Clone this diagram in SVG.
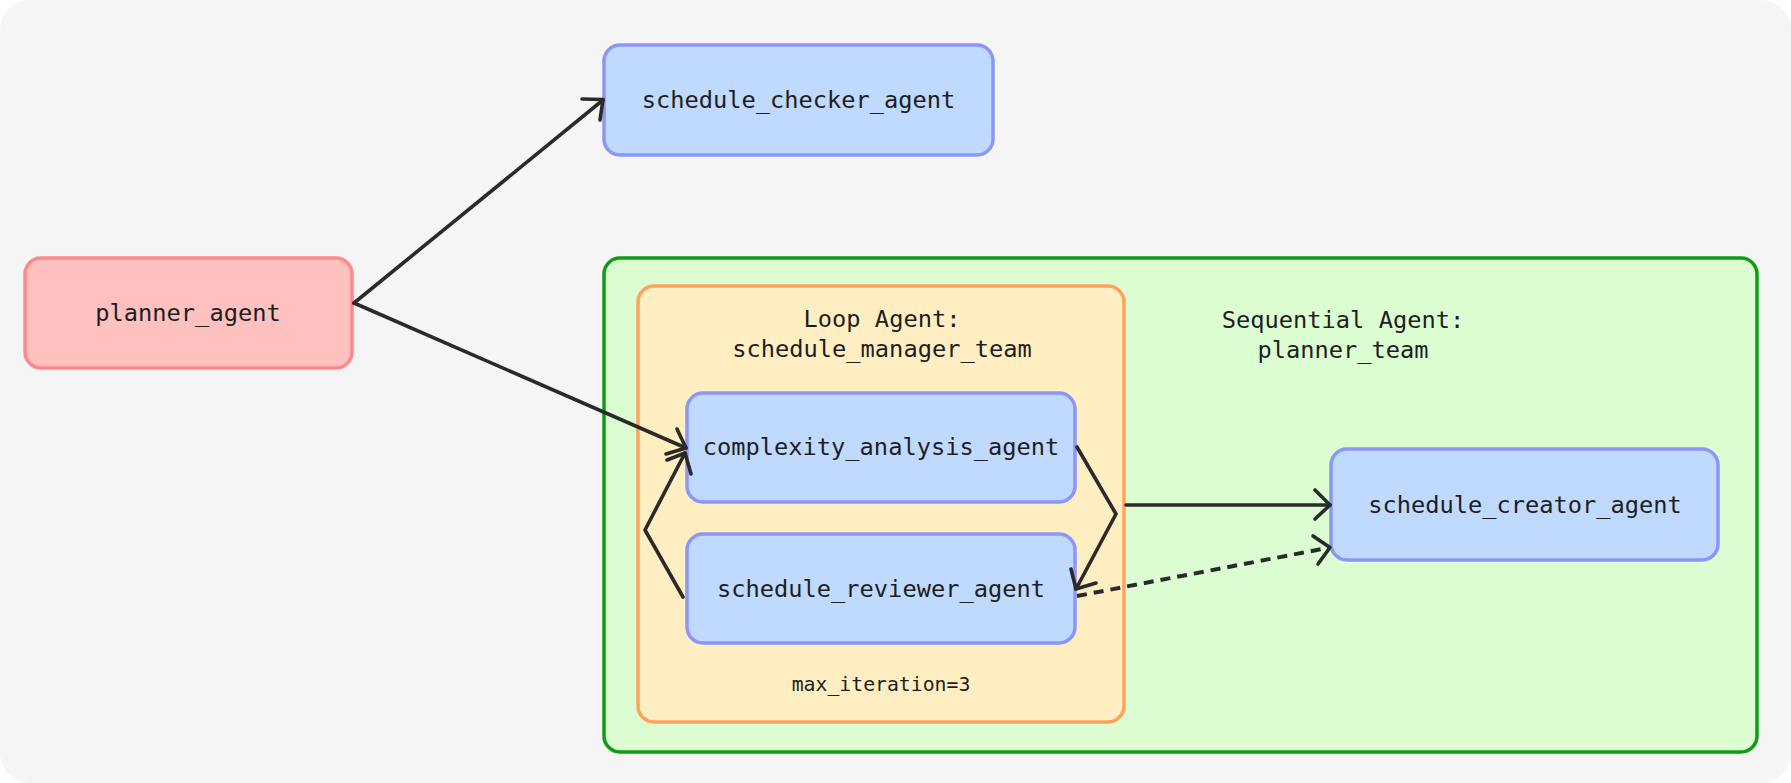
<svg xmlns="http://www.w3.org/2000/svg" width="1791" height="783" viewBox="0 0 1791 783">
<defs>
<style>
.t{font-family:"DejaVu Sans Mono","Liberation Mono",monospace;font-size:23.7px;fill:#1e1e1e;text-anchor:middle;dominant-baseline:central}
.s{font-size:19.8px}
.blue{fill:#c0d9ff;stroke:#8c96f7;stroke-width:3.5}
.red{fill:#ffc0c0;stroke:#ff8888;stroke-width:3.5}
.c{fill:none;stroke:#2a2a2a;stroke-width:3.6;stroke-linecap:round;stroke-linejoin:round}
.d{stroke-dasharray:10 7;stroke-linecap:butt;stroke-width:4}
</style>
</defs>
<rect x="0" y="0" width="1791" height="783" fill="#ffffff"/>
<rect x="0" y="0" width="1791" height="783" rx="30" fill="#f5f5f5"/>

<g id="planner_team">
<rect x="604" y="258" width="1153" height="494" rx="16" fill="#dcfdd2" stroke="#0f9d17" stroke-width="3.5"/>
<text class="t" x="1343" y="320">Sequential Agent:</text>
<text class="t" x="1343" y="350">planner_team</text>
</g>

<g id="schedule_manager_team">
<rect x="638" y="286" width="486" height="436" rx="16" fill="#ffeec2" stroke="#ffa35c" stroke-width="3.5"/>
<text class="t" x="882" y="319">Loop Agent:</text>
<text class="t" x="882" y="349">schedule_manager_team</text>
<text class="t s" x="881" y="684">max_iteration=3</text>
</g>

<g id="schedule_checker_agent">
<rect class="blue" x="604" y="45" width="389" height="110" rx="16"/>
<text class="t" x="798.5" y="100">schedule_checker_agent</text>
</g>

<g id="planner_agent">
<rect class="red" x="25" y="258" width="327" height="110" rx="16"/>
<text class="t" x="188" y="313">planner_agent</text>
</g>

<g id="complexity_analysis_agent">
<rect class="blue" x="687" y="393" width="388" height="109" rx="16"/>
<text class="t" x="881" y="447">complexity_analysis_agent</text>
</g>

<g id="schedule_reviewer_agent">
<rect class="blue" x="687" y="534" width="388" height="109" rx="16"/>
<text class="t" x="881" y="589">schedule_reviewer_agent</text>
</g>

<g id="schedule_creator_agent">
<rect class="blue" x="1331" y="449" width="387" height="111" rx="16"/>
<text class="t" x="1525" y="505">schedule_creator_agent</text>
</g>

<g id="connectors">
<path class="c" d="M354 303 L603 100"/>
<path class="c" d="M582 99 L603 99.5 L600 120"/>
<path class="c" d="M354 303 L686 448"/>
<path class="c" d="M677 429 L686 448 L666 454"/>
<path class="c" d="M683 597 L645 530 L685 453"/>
<path class="c" d="M667 460 L685 453 L691 474"/>
<path class="c" d="M1077 447 L1116 514 L1076 589"/>
<path class="c" d="M1071 569 L1076 589 L1096 583"/>
<path class="c" d="M1126 505 L1330 505"/>
<path class="c" d="M1315 490 L1330 505 L1315 519"/>
<path class="c d" d="M1077 596 L1330 547.5"/>
<path class="c" d="M1313 536 L1330 547.5 L1318 564"/>
</g>
</svg>
